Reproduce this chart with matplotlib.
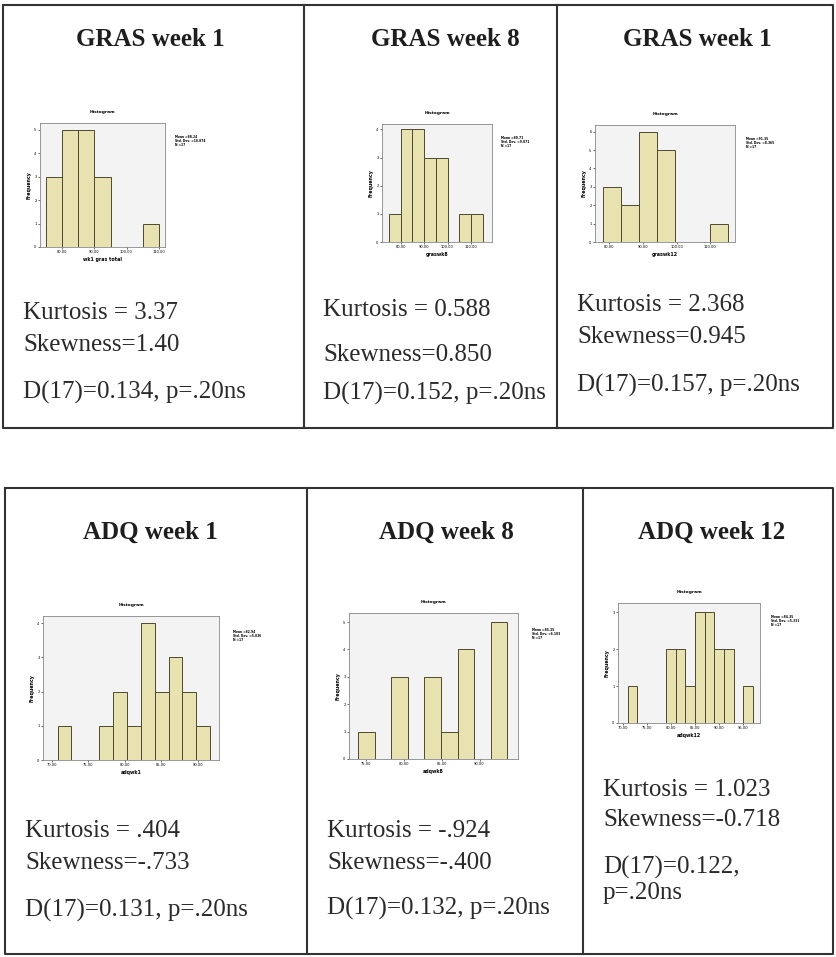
"""
Normality check table: six small SPSS-style histograms with kurtosis,
skewness and K-S statistics for the GRAS and ADQ scores.
"""

import matplotlib

matplotlib.use("Agg")
from matplotlib import pyplot as plt

W, H = 836, 957  # page size in pixels

# ---- data ----------------------------------------------------------------
titles = ["GRAS week 1", "GRAS week 8", "GRAS week 1",
          "ADQ week 1", "ADQ week 8", "ADQ week 12"]
var_names = ["wk1 gras total", "graswk8", "graswk12",
             "adqwk1", "adqwk8", "adqwk12"]

gras1_edges = [75, 80, 85, 90, 95, 100, 105, 110]
gras1_counts = [3, 5, 5, 3, 0, 0, 1]

gras8_edges = [75, 80, 85, 90, 95, 100, 105, 110, 115]
gras8_counts = [1, 4, 4, 3, 3, 0, 1, 1]

gras12_edges = [78.2, 83.5, 88.8, 94.1, 99.4, 104.7, 110.0, 115.3]
gras12_counts = [3, 2, 6, 5, 0, 0, 1]

adq1_edges = [70.8, 72.7, 74.6, 76.5, 78.4, 80.3, 82.2, 84.1, 86.0, 87.9, 89.8, 91.7]
adq1_counts = [1, 0, 0, 1, 2, 1, 4, 2, 3, 2, 1]

adq8_edges = [73.9, 76.1, 78.3, 80.5, 82.7, 84.9, 87.1, 89.3, 91.5, 93.7]
adq8_counts = [1, 0, 3, 0, 3, 1, 4, 0, 5]

adq12_edges = [71, 73, 75, 77, 79, 81, 83, 85, 87, 89, 91, 93, 95, 97]
adq12_counts = [1, 0, 0, 0, 2, 2, 1, 3, 3, 2, 2, 0, 1]

x_ticks = [[80, 90, 100, 110], [80, 90, 100, 110], [80, 90, 100, 110],
           [70, 75, 80, 85, 90], [75, 80, 85, 90], [70, 75, 80, 85, 90, 95]]

stat_boxes = ["Mean =88.24\nStd. Dev. =10.874\nN =17",
              "Mean =89.71\nStd. Dev. =9.871\nN =17",
              "Mean =91.35\nStd. Dev. =8.365\nN =17",
              "Mean =82.94\nStd. Dev. =5.036\nN =17",
              "Mean =85.35\nStd. Dev. =6.183\nN =17",
              "Mean =84.35\nStd. Dev. =5.331\nN =17"]

stat_lines = [
    ["Kurtosis = 3.37", "Skewness=1.40", "D(17)=0.134, p=.20ns"],
    ["Kurtosis = 0.588", "Skewness=0.850", "D(17)=0.152, p=.20ns"],
    ["Kurtosis = 2.368", "Skewness=0.945", "D(17)=0.157, p=.20ns"],
    ["Kurtosis = .404", "Skewness=-.733", "D(17)=0.131, p=.20ns"],
    ["Kurtosis = -.924", "Skewness=-.400", "D(17)=0.132, p=.20ns"],
    ["Kurtosis = 1.023", "Skewness=-0.718", "D(17)=0.122,", "p=.20ns"],
]

# ---- layout (pixels) -----------------------------------------------------
hist_frames = [(40, 123, 165, 247), (382, 124, 492, 242), (595, 125, 735, 242),
               (43, 616, 219, 760), (349, 613, 518, 759), (618, 603, 760, 723)]
x_limits = [(73, 112), (72, 119), (75.7, 117.3), (68.8, 92.9), (72.7, 95.1), (69, 98.5)]
y_limits = [5.29, 4.19, 6.36, 4.21, 5.33, 3.25]
title_pos = [(150, 40), (445, 40), (697, 40), (150, 532), (446, 532), (712, 532)]
text_x = [23, 323, 577, 25, 327, 603]
text_y = [[313, 345, 392], [310, 355, 393], [305, 337, 385],
          [831, 863, 910], [831, 863, 908], [790, 820, 867, 893]]

BAR = "#e8e1b0"
BAR_EDGE = "#4f4830"
INK = "#1e1e1e"
SERIF = ["Liberation Serif", "DejaVu Serif"]


def px_rect(x0, y0, x1, y1):
    return [x0 / W, 1 - y1 / H, (x1 - x0) / W, (y1 - y0) / H]


def draw_histogram(fig, frame, edges, counts, xlim, ylim, ticks, xlabel, stats):
    ax = fig.add_axes(px_rect(*frame))
    ax.set_facecolor("#f3f3f3")
    lefts = edges[:-1]
    widths = [b - a for a, b in zip(edges[:-1], edges[1:])]
    ax.bar(lefts, counts, width=widths, align="edge", color=BAR,
           edgecolor=BAR_EDGE, linewidth=0.7)
    ax.set_xlim(*xlim)
    ax.set_ylim(0, ylim)
    ax.set_xticks(ticks)
    ax.set_xticklabels([f"{t:.2f}" for t in ticks])
    ax.set_yticks(range(0, int(ylim) + 1))
    ax.tick_params(labelsize=2.6, length=1.5, width=0.4, pad=1)
    for spine in ax.spines.values():
        spine.set_color("#888888")
        spine.set_linewidth(0.6)
    ax.set_title("Histogram", fontsize=3.2, pad=7, fontweight="bold")
    ax.set_xlabel(xlabel, fontsize=3.4, labelpad=2, fontweight="bold")
    ax.set_ylabel("Frequency", fontsize=3.4, labelpad=2, fontweight="bold")
    ax.text(1.08, 0.9, stats, transform=ax.transAxes, fontsize=2.2,
            va="top", ha="left", linespacing=1.0, fontweight="bold")


def main():
    fig = plt.figure(figsize=(W / 100, H / 100), dpi=100)
    page = fig.add_axes([0, 0, 1, 1])
    page.set_xlim(0, W)
    page.set_ylim(H, 0)
    page.axis("off")

    # table borders
    line_kw = dict(color="#333333", lw=1.5, solid_capstyle="projecting")
    for x0, y0, x1, y1, cols in [(3, 5, 833, 428, [304, 557]),
                                 (5, 488, 833, 954, [307, 583])]:
        page.plot([x0, x1, x1, x0, x0], [y0, y0, y1, y1, y0], **line_kw)
        for cx in cols:
            page.plot([cx, cx], [y0, y1], **line_kw)

    for (tx, ty), title in zip(title_pos, titles):
        page.text(tx, ty, title, ha="center", va="center", fontsize=18,
                  fontweight="bold", family=SERIF, color=INK)

    for x, ys, lines in zip(text_x, text_y, stat_lines):
        for y, s in zip(ys, lines):
            page.text(x, y, s, ha="left", va="center", fontsize=18,
                      family=SERIF, color="#2a2a2a")

    all_edges = [gras1_edges, gras8_edges, gras12_edges, adq1_edges, adq8_edges, adq12_edges]
    all_counts = [gras1_counts, gras8_counts, gras12_counts, adq1_counts, adq8_counts, adq12_counts]
    for i in range(6):
        draw_histogram(fig, hist_frames[i], all_edges[i], all_counts[i],
                       x_limits[i], y_limits[i], x_ticks[i], var_names[i], stat_boxes[i])

    fig.savefig("out.png", dpi=100)
    plt.close(fig)


if __name__ == "__main__":
    main()
